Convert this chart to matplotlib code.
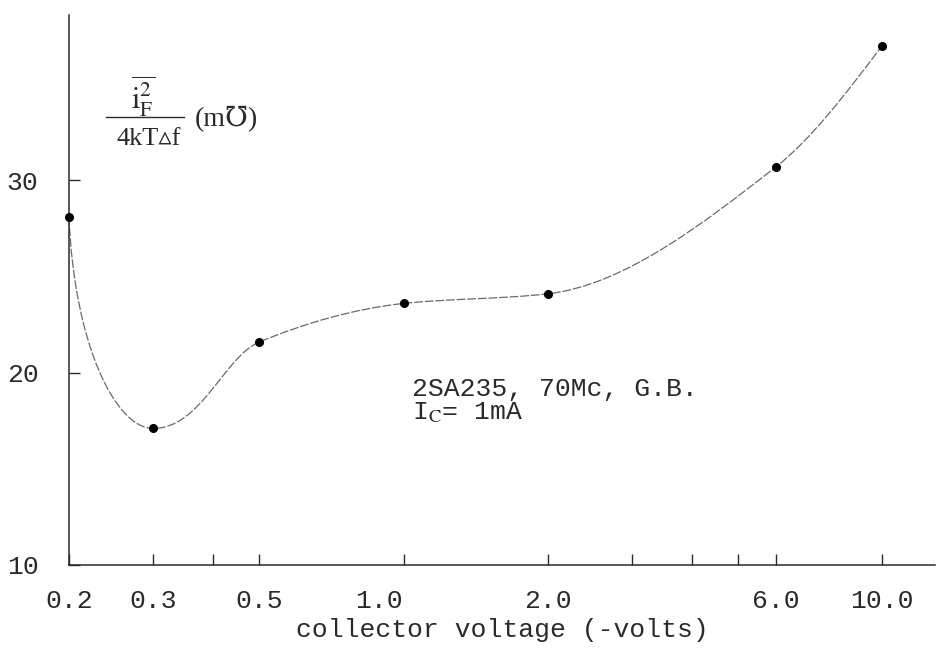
import numpy as np
import matplotlib
matplotlib.use("Agg")
import matplotlib.pyplot as plt
from matplotlib.path import Path
from matplotlib.patches import PathPatch
from matplotlib.ticker import FixedLocator, NullFormatter
from matplotlib.transforms import ScaledTranslation

# data
voltage = [0.2, 0.3, 0.5, 1.0, 2.0, 6.0, 10.0]
noise = [28.1, 17.1, 21.6, 23.6, 24.1, 30.7, 37.0]
xtick_values = [0.2, 0.3, 0.5, 1.0, 2.0, 6.0, 10.0]
xtick_labels = ['0.2', '0.3', '0.5', '1.0', '2.0', '6.0', '10.0']
xminor_values = [0.4, 3.0, 4.0, 5.0]
ytick_values = [10, 20, 30]
ytick_labels = ['10', '20', '30']

mono = ['Liberation Mono', 'DejaVu Sans Mono']
serif = ['Liberation Serif', 'DejaVu Serif']
ink = '#2a2a2a'
plt.rcParams['font.family'] = mono
plt.rcParams['mathtext.fontset'] = 'stix'

fig = plt.figure(figsize=(9.37, 6.51), dpi=100)
ax = fig.add_axes([69/937, 1-565/651, (935-69)/937, (565-15)/651])
ax.set_xscale('log')
ax.set_xlim(0.2, 12.9)
ax.set_ylim(10, 38.6)

for s in ['top', 'right']:
    ax.spines[s].set_visible(False)
for s in ['left', 'bottom']:
    ax.spines[s].set_color(ink)
    ax.spines[s].set_linewidth(1.1)

# smooth hand-drawn style curve: shape preserving cubic segments as bezier path
u = np.log10(voltage)
y = np.array(noise)
h = np.diff(u)
d = np.diff(y) / h
m = np.zeros(len(y))
for i in range(1, len(y) - 1):
    if d[i-1] * d[i] > 0:
        w1 = 2*h[i] + h[i-1]
        w2 = h[i] + 2*h[i-1]
        m[i] = (w1 + w2) / (w1/d[i-1] + w2/d[i])
m[-1] = ((2*h[-1] + h[-2])*d[-1] - h[-1]*d[-2]) / (h[-1] + h[-2])

# handle lengths (fraction of segment width) at start / end of each segment
a = [0.06, 0.45, 0.33, 0.33, 0.33, 0.33]
b = [0.45, 0.33, 0.33, 0.33, 0.33, 0.33]

verts = [(voltage[0], noise[0])]
codes = [Path.MOVETO]
for i in range(len(y) - 1):
    if i == 0:
        # the drawn curve leaves the first point almost vertically
        c1 = (10**(u[0] + a[0]*h[0]), y[0] - 0.6*(y[0] - y[1]))
    else:
        c1 = (10**(u[i] + a[i]*h[i]), y[i] + m[i]*a[i]*h[i])
    c2 = (10**(u[i+1] - b[i]*h[i]), y[i+1] - m[i+1]*b[i]*h[i])
    verts += [c1, c2, (voltage[i+1], noise[i+1])]
    codes += [Path.CURVE4]*3
ax.add_patch(PathPatch(Path(verts, codes), fill=False, edgecolor='#6a6a6a',
                       linewidth=0.9, linestyle=(0, (7, 1.5))))
ax.plot(voltage, noise, 'o', color='black', markersize=5.5, clip_on=False, zorder=5)

ax.xaxis.set_major_locator(FixedLocator(xtick_values))
ax.xaxis.set_minor_locator(FixedLocator(xminor_values))
ax.xaxis.set_minor_formatter(NullFormatter())
ax.set_xticklabels(xtick_labels)
ax.set_yticks(ytick_values)
ax.set_yticklabels(ytick_labels)
ax.tick_params(which='both', direction='in', length=8, width=1, color=ink,
               labelcolor=ink, labelsize=19)
ax.tick_params(axis='x', pad=17)
ax.tick_params(axis='y', pad=22)

# the 1.0 label sits left of its tick in the original
for lab in ax.get_xticklabels():
    if lab.get_text() == '1.0':
        lab.set_transform(lab.get_transform() + ScaledTranslation(-0.25, 0, fig.dpi_scale_trans))

ax.set_xlabel('collector voltage (-volts)', fontsize=19, color=ink, labelpad=4)

# y axis quantity written as a fraction at the top left
fig.text(143/937, 1-96/651, r'$\overline{\mathrm{i}_{\mathrm{F}}^{2}}$', fontsize=22,
         color=ink, ha='center', va='center')
fig.add_artist(plt.Line2D([106/937, 184/937], [1-117/651, 1-117/651],
                          color=ink, linewidth=1.0))
fig.text(149/937, 1-139/651, '4kT\u25b5f', fontsize=19, color=ink,
         ha='center', va='center', family=serif)
fig.text(195/937, 1-119/651, '(m\u2127)', fontsize=20, color=ink,
         ha='left', va='center', family=serif)

fig.text(412/937, 1-389/651, '2SA235, 70Mc, G.B.', fontsize=19, color=ink,
         ha='left', va='center')
fig.text(412/937, 1-413/651, r'I$_{\mathrm{C}}$= 1mA', fontsize=19, color=ink,
         ha='left', va='center')

fig.savefig('out.png', dpi=100)
